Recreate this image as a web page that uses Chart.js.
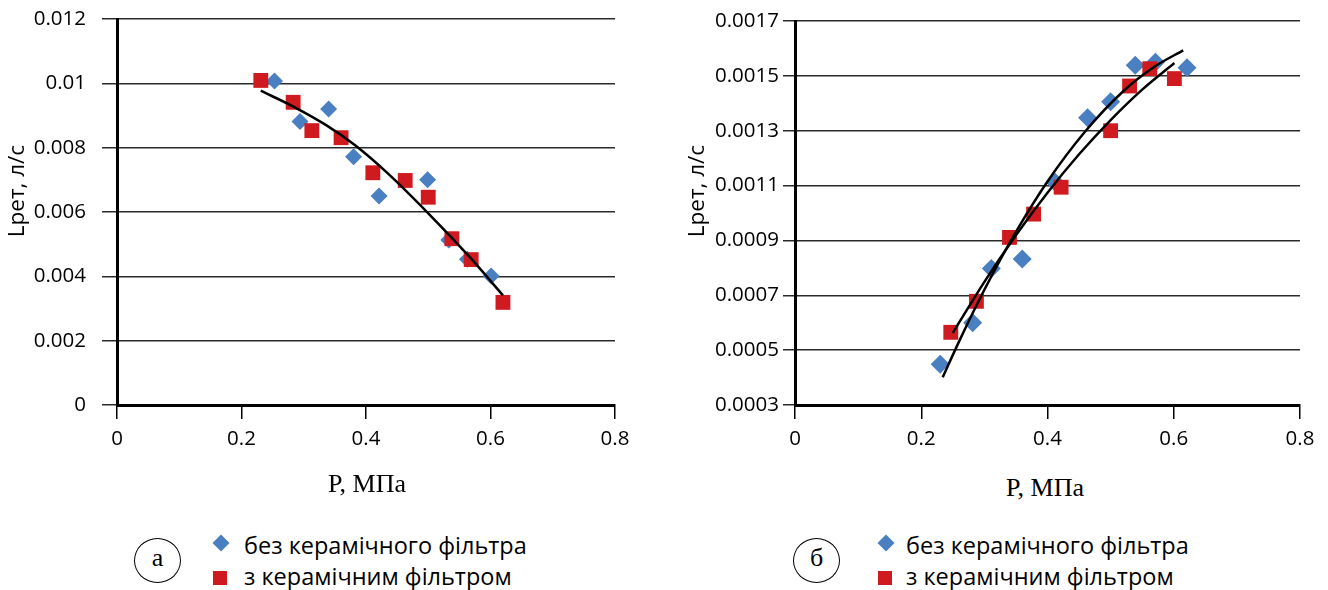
<!DOCTYPE html>
<html>
<head>
<meta charset="utf-8">
<script src="https://cdn.jsdelivr.net/npm/chart.js@4.4.1/dist/chart.umd.min.js"></script>
<style>
  html, body { margin: 0; padding: 0; background: #fff; }
  body { width: 1328px; height: 590px; position: relative; overflow: hidden; font-family: "Open Sans", sans-serif; }
  canvas { position: absolute; top: 0; }
  .ytitle { position: absolute; width: 140px; height: 22px; line-height: 22px; font-size: 22.5px; text-align: center; transform: rotate(-90deg); white-space: nowrap; color: #000; }
  .xtitle { position: absolute; width: 160px; line-height: 26px; font-size: 26px; text-align: center; font-family: "Liberation Serif", serif; color: #000; }
  .circle { position: absolute; width: 45px; height: 43px; border: 1.3px solid #000; border-radius: 50%; text-align: center; font-family: "Liberation Serif", serif; font-size: 26px; line-height: 38px; }
  .diamond { position: absolute; width: 12px; height: 12px; background: #4a7fc1; transform: rotate(45deg); }
  .square { position: absolute; width: 14px; height: 14px; background: #cf1b20; }
  .ltext { position: absolute; font-size: 23.5px; line-height: 22px; white-space: nowrap; color: #000; }
</style>
</head>
<body>
<canvas id="chartA" width="660" height="470" style="left:0"></canvas>
<canvas id="chartB" width="668" height="470" style="left:660px"></canvas>

<div class="ytitle" style="left:-54px; top:180px">Lрет, л/с</div>
<div class="ytitle" style="left:626px; top:180px">Lрет, л/с</div>
<div class="xtitle" style="left:287px; top:471px">P, МПа</div>
<div class="xtitle" style="left:965px; top:475px">P, МПа</div>

<div class="circle" style="left:134px; top:538px">а</div>
<div class="diamond" style="left:215px; top:537px"></div>
<div class="square" style="left:213px; top:571px"></div>
<div class="ltext" style="left:244px; top:534px">без керамічного фільтра</div>
<div class="ltext" style="left:244px; top:565px">з керамічним фільтром</div>

<div class="circle" style="left:793px; top:538px">б</div>
<div class="diamond" style="left:880px; top:537px"></div>
<div class="square" style="left:878px; top:571px"></div>
<div class="ltext" style="left:906px; top:534px">без керамічного фільтра</div>
<div class="ltext" style="left:906px; top:565px">з керамічним фільтром</div>

<script>
// Графік а: витрата Lрет від тиску P
const pressureA_noFilter = [0.253, 0.294, 0.340, 0.380, 0.421, 0.499, 0.533, 0.563, 0.601];
const flowA_noFilter     = [0.01007, 0.00881, 0.0092, 0.00772, 0.0065, 0.0070, 0.00513, 0.00453, 0.00401];
const pressureA_filter   = [0.231, 0.283, 0.313, 0.360, 0.411, 0.463, 0.500, 0.538, 0.569, 0.620];
const flowA_filter       = [0.01009, 0.00941, 0.00853, 0.00831, 0.00722, 0.00698, 0.00646, 0.00517, 0.00452, 0.00319];
const trendA_p = [0.231, 0.284, 0.336, 0.382, 0.435, 0.500, 0.566, 0.620];
const trendA_q = [0.00977, 0.00927, 0.0087, 0.00808, 0.0072, 0.00596, 0.00461, 0.00341];

// Графік б
const pressureB_noFilter = [0.230, 0.2815, 0.311, 0.360, 0.412, 0.4635, 0.500, 0.539, 0.571, 0.621];
const flowB_noFilter     = [0.000449, 0.0006, 0.000798, 0.000832, 0.001112, 0.001347, 0.001406, 0.001539, 0.00155, 0.00153];
const pressureB_filter   = [0.2468, 0.2874, 0.3398, 0.378, 0.4216, 0.500, 0.530, 0.562, 0.601];
const flowB_filter       = [0.000565, 0.000678, 0.000911, 0.000996, 0.001094, 0.0013, 0.001463, 0.001526, 0.00149];
const trendB1_p = [0.234, 0.260, 0.300, 0.350, 0.400, 0.460, 0.520, 0.570, 0.615];
const trendB1_q = [0.000401, 0.000532, 0.00072, 0.000931, 0.001115, 0.001298, 0.001444, 0.001534, 0.001593];
const trendB2_p = [0.250, 0.300, 0.350, 0.400, 0.450, 0.500, 0.550, 0.601];
const trendB2_q = [0.000563, 0.000749, 0.000919, 0.001074, 0.001214, 0.001339, 0.00145, 0.001547];

// Поділки осей
const xTickValues = [0, 0.2, 0.4, 0.6, 0.8];
const xTickLabels = ['0', '0.2', '0.4', '0.6', '0.8'];
const yTickValuesA = [0, 0.002, 0.004, 0.006, 0.008, 0.01, 0.012];
const yTickLabelsA = ['0', '0.002', '0.004', '0.006', '0.008', '0.01', '0.012'];
const yTickValuesB = [0.0003, 0.0005, 0.0007, 0.0009, 0.0011, 0.0013, 0.0015, 0.0017];
const yTickLabelsB = ['0.0003', '0.0005', '0.0007', '0.0009', '0.0011', '0.0013', '0.0015', '0.0017'];

const blue = '#4a7fc1';
const red = '#cf1b20';

Chart.defaults.font.family = '"Open Sans", sans-serif';
Chart.defaults.color = '#000';

function points(xs, ys) {
    return xs.map((x, i) => ({ x: x, y: ys[i] }));
}

function buildChart(canvasId, cfg) {
    const ctx = document.getElementById(canvasId).getContext('2d');
    return new Chart(ctx, {
        type: 'scatter',
        data: {
            datasets: [
                ...cfg.trends.map(t => ({
                    type: 'line',
                    data: points(t[0], t[1]),
                    borderColor: '#000',
                    borderWidth: 2.5,
                    pointRadius: 0,
                    fill: false,
                    cubicInterpolationMode: 'monotone',
                    order: 0
                })),
                {
                    label: 'без керамічного фільтра',
                    data: points(cfg.noFilter[0], cfg.noFilter[1]),
                    pointStyle: 'rectRot',
                    pointRadius: cfg.diamondSize,
                    backgroundColor: blue,
                    borderWidth: 0,
                    order: 2
                },
                {
                    label: 'з керамічним фільтром',
                    data: points(cfg.filter[0], cfg.filter[1]),
                    pointStyle: 'rect',
                    pointRadius: 10.5,
                    backgroundColor: red,
                    borderWidth: 0,
                    order: 1
                }
            ]
        },
        options: {
            responsive: false,
            animation: false,
            layout: { padding: { left: 0, top: cfg.top, right: cfg.right, bottom: 0 } },
            plugins: { legend: { display: false }, tooltip: { enabled: false } },
            scales: {
                x: {
                    type: 'linear',
                    min: 0,
                    max: 0.8,
                    afterBuildTicks: s => { s.ticks = xTickValues.map(v => ({ value: v })); },
                    afterFit: s => { s.height = 65; },
                    grid: { drawOnChartArea: false, drawTicks: true, tickLength: 14, color: '#000', lineWidth: 1.5 },
                    border: { display: true, color: '#000', width: 3 },
                    ticks: {
                        padding: 8,
                        font: { size: 20.5 },
                        color: '#000',
                        maxRotation: 0,
                        callback: (v, i) => xTickLabels[i]
                    }
                },
                y: {
                    type: 'linear',
                    min: cfg.yValues[0],
                    max: cfg.yValues[cfg.yValues.length - 1],
                    afterBuildTicks: s => { s.ticks = cfg.yValues.map(v => ({ value: v })); },
                    afterFit: s => {
                        s.width = cfg.yWidth;
                        // не даємо відступу підписів зсувати область графіка
                        s.paddingTop = 0;
                        s.paddingBottom = 0;
                    },
                    grid: { drawTicks: true, tickLength: cfg.tickLen, color: '#2a2a2a', lineWidth: 1.5 },
                    border: { display: true, color: '#000', width: 3 },
                    ticks: {
                        padding: cfg.tickPad,
                        font: { size: 20.5 },
                        color: '#000',
                        callback: (v, i) => cfg.yLabels[i]
                    }
                }
            }
        }
    });
}

buildChart('chartA', {
    trends: [[trendA_p, trendA_q]],
    noFilter: [pressureA_noFilter, flowA_noFilter],
    filter: [pressureA_filter, flowA_filter],
    diamondSize: 8.5,
    yValues: yTickValuesA,
    yLabels: yTickLabelsA,
    top: 19,
    right: 45,
    yWidth: 117,
    tickLen: 15,
    tickPad: 16
});

buildChart('chartB', {
    trends: [[trendB1_p, trendB1_q], [trendB2_p, trendB2_q]],
    noFilter: [pressureB_noFilter, flowB_noFilter],
    filter: [pressureB_filter, flowB_filter],
    diamondSize: 9.5,
    yValues: yTickValuesB,
    yLabels: yTickLabelsB,
    top: 21,
    right: 28,
    yWidth: 135,
    tickLen: 12,
    tickPad: 4
});
</script>
</body>
</html>
